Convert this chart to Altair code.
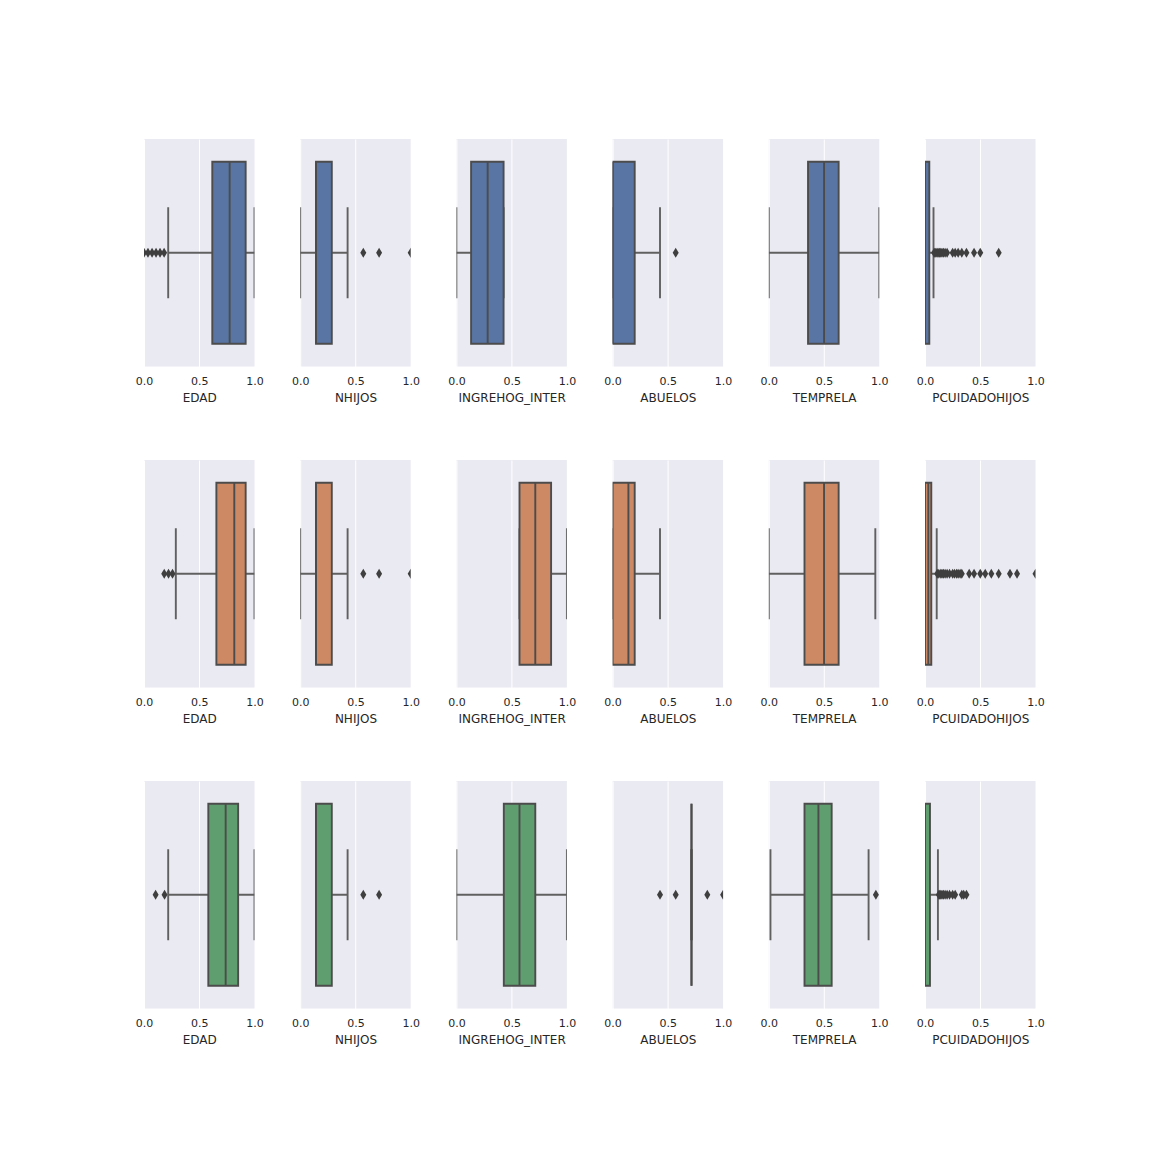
import altair as alt
import pandas as pd

VARS = ["EDAD", "NHIJOS", "INGREHOG_INTER", "ABUELOS", "TEMPRELA", "PCUIDADOHIJOS"]
FILLS = ["#5875a4", "#cc8963", "#5f9e6e"]

# per group (row): lists indexed by variable
WLO = [
    [0.219, 0.0, 0.0, 0.0, 0.0, 0.0],
    [0.288, 0.0, 0.571, 0.0, 0.0, 0.0],
    [0.219, 0.143, 0.0, 0.714, 0.015, 0.0],
]
Q1 = [
    [0.618, 0.143, 0.133, 0.0, 0.355, 0.0],
    [0.655, 0.143, 0.571, 0.0, 0.323, 0.0],
    [0.582, 0.143, 0.429, 0.714, 0.323, 0.0],
]
MED = [
    [0.775, 0.143, 0.283, 0.0, 0.5, 0.0],
    [0.817, 0.143, 0.714, 0.143, 0.5, 0.03],
    [0.739, 0.143, 0.571, 0.714, 0.449, 0.0],
]
Q3 = [
    [0.92, 0.286, 0.427, 0.2, 0.632, 0.039],
    [0.92, 0.286, 0.857, 0.2, 0.632, 0.057],
    [0.852, 0.286, 0.714, 0.714, 0.569, 0.045],
]
WHI = [
    [1.0, 0.429, 0.427, 0.429, 1.0, 0.077],
    [1.0, 0.429, 1.0, 0.429, 0.964, 0.106],
    [1.0, 0.429, 1.0, 0.714, 0.903, 0.117],
]
OUT = [
    [
        [0.0, 0.036, 0.073, 0.109, 0.145, 0.182],
        [0.571, 0.714, 1.0],
        [],
        [0.571],
        [],
        [0.083, 0.091, 0.1, 0.111, 0.125, 0.133, 0.143, 0.154, 0.167, 0.182, 0.2,
         0.25, 0.273, 0.3, 0.333, 0.375, 0.444, 0.5, 0.667],
    ],
    [
        [0.183, 0.222, 0.258],
        [0.571, 0.714, 1.0],
        [],
        [],
        [],
        [0.111, 0.125, 0.143, 0.154, 0.167, 0.182, 0.2, 0.222, 0.25, 0.267, 0.286,
         0.3, 0.318, 0.333, 0.4, 0.444, 0.5, 0.545, 0.6, 0.667, 0.769, 0.833, 1.0],
    ],
    [
        [0.105, 0.186],
        [0.571, 0.714],
        [],
        [0.429, 0.571, 0.857, 1.0],
        [0.969],
        [0.125, 0.133, 0.143, 0.154, 0.167, 0.182, 0.2, 0.222, 0.25, 0.273,
         0.333, 0.35, 0.375],
    ],
]

EDGE = "#4c4c4c"
WHISK = "#606060"
FLIER = "#3f3f3f"
DIAMOND = "M0,-1L0.6,0L0,1L-0.6,0Z"

W = 110.5
H = 227.5
LW = 1.9


def panel(g, i):
    name = VARS[i]
    stats = pd.DataFrame({
        "k": ["a"], "wlo": [WLO[g][i]], "q1": [Q1[g][i]], "med": [MED[g][i]],
        "q3": [Q3[g][i]], "whi": [WHI[g][i]],
    })
    caps = pd.DataFrame({"k": ["a", "a"], "v": [WLO[g][i], WHI[g][i]]})
    outl = pd.DataFrame({"k": ["a"] * len(OUT[g][i]), "v": OUT[g][i]})

    xs = alt.Scale(domain=[0, 1], nice=False, zero=False)
    ax = alt.Axis(title=name, values=[0, 0.5, 1], format=".1f", grid=True,
                  gridColor="white", gridWidth=1, ticks=False, domain=False,
                  labelFlush=False, labelOverlap=False, labelPadding=9,
                  labelFontSize=11, labelColor="#262626", labelFont="DejaVu Sans",
                  titleFontSize=12, titleFontWeight="normal", titleColor="#262626",
                  titleFont="DejaVu Sans", titlePadding=6)
    Y = alt.Y("k:N", axis=None, scale=alt.Scale(paddingInner=0.2, paddingOuter=0.1))

    def X(f):
        return alt.X(f, type="quantitative", scale=xs, axis=ax, title=name)

    base = alt.Chart(stats)
    lo = base.mark_rule(color=WHISK, strokeWidth=LW, clip=True).encode(
        x=X("wlo"), x2="q1:Q", y=Y)
    hi = base.mark_rule(color=WHISK, strokeWidth=LW, clip=True).encode(
        x=X("q3"), x2="whi:Q", y=Y)
    cap = alt.Chart(caps).mark_tick(color=WHISK, size=H * 0.4, thickness=LW,
                                    opacity=1, clip=True).encode(x=X("v"), y=Y)
    box = base.mark_bar(color=FILLS[g], stroke=EDGE, strokeWidth=LW,
                        clip=True).encode(x=X("q1"), x2="q3:Q", y=Y)
    med = base.mark_tick(color=EDGE, size=H * 0.8, thickness=LW, opacity=1,
                         clip=True).encode(x=X("med"), y=Y)
    layers = [lo, hi, cap, box, med]
    if len(OUT[g][i]):
        pts = alt.Chart(outl).mark_point(shape=DIAMOND, filled=True, size=100,
                                         color=FLIER, opacity=1, clip=True).encode(
            x=X("v"), y=Y)
        layers.append(pts)
    return alt.layer(*layers).properties(
        width=W, height=H,
        view=alt.ViewBackground(fill="#EAEAF2", strokeWidth=0, stroke="#EAEAF2"))


panels = [panel(g, i) for g in range(3) for i in range(6)]
chart = alt.concat(*panels, columns=6, spacing={"row": 93.0, "column": 45.2},
                   bounds="flush").properties(
    padding={"left": 135, "top": 139, "right": 5, "bottom": 5}
).configure(background="white")

chart.save("out.html", embed_options={"renderer": "svg", "actions": False})
